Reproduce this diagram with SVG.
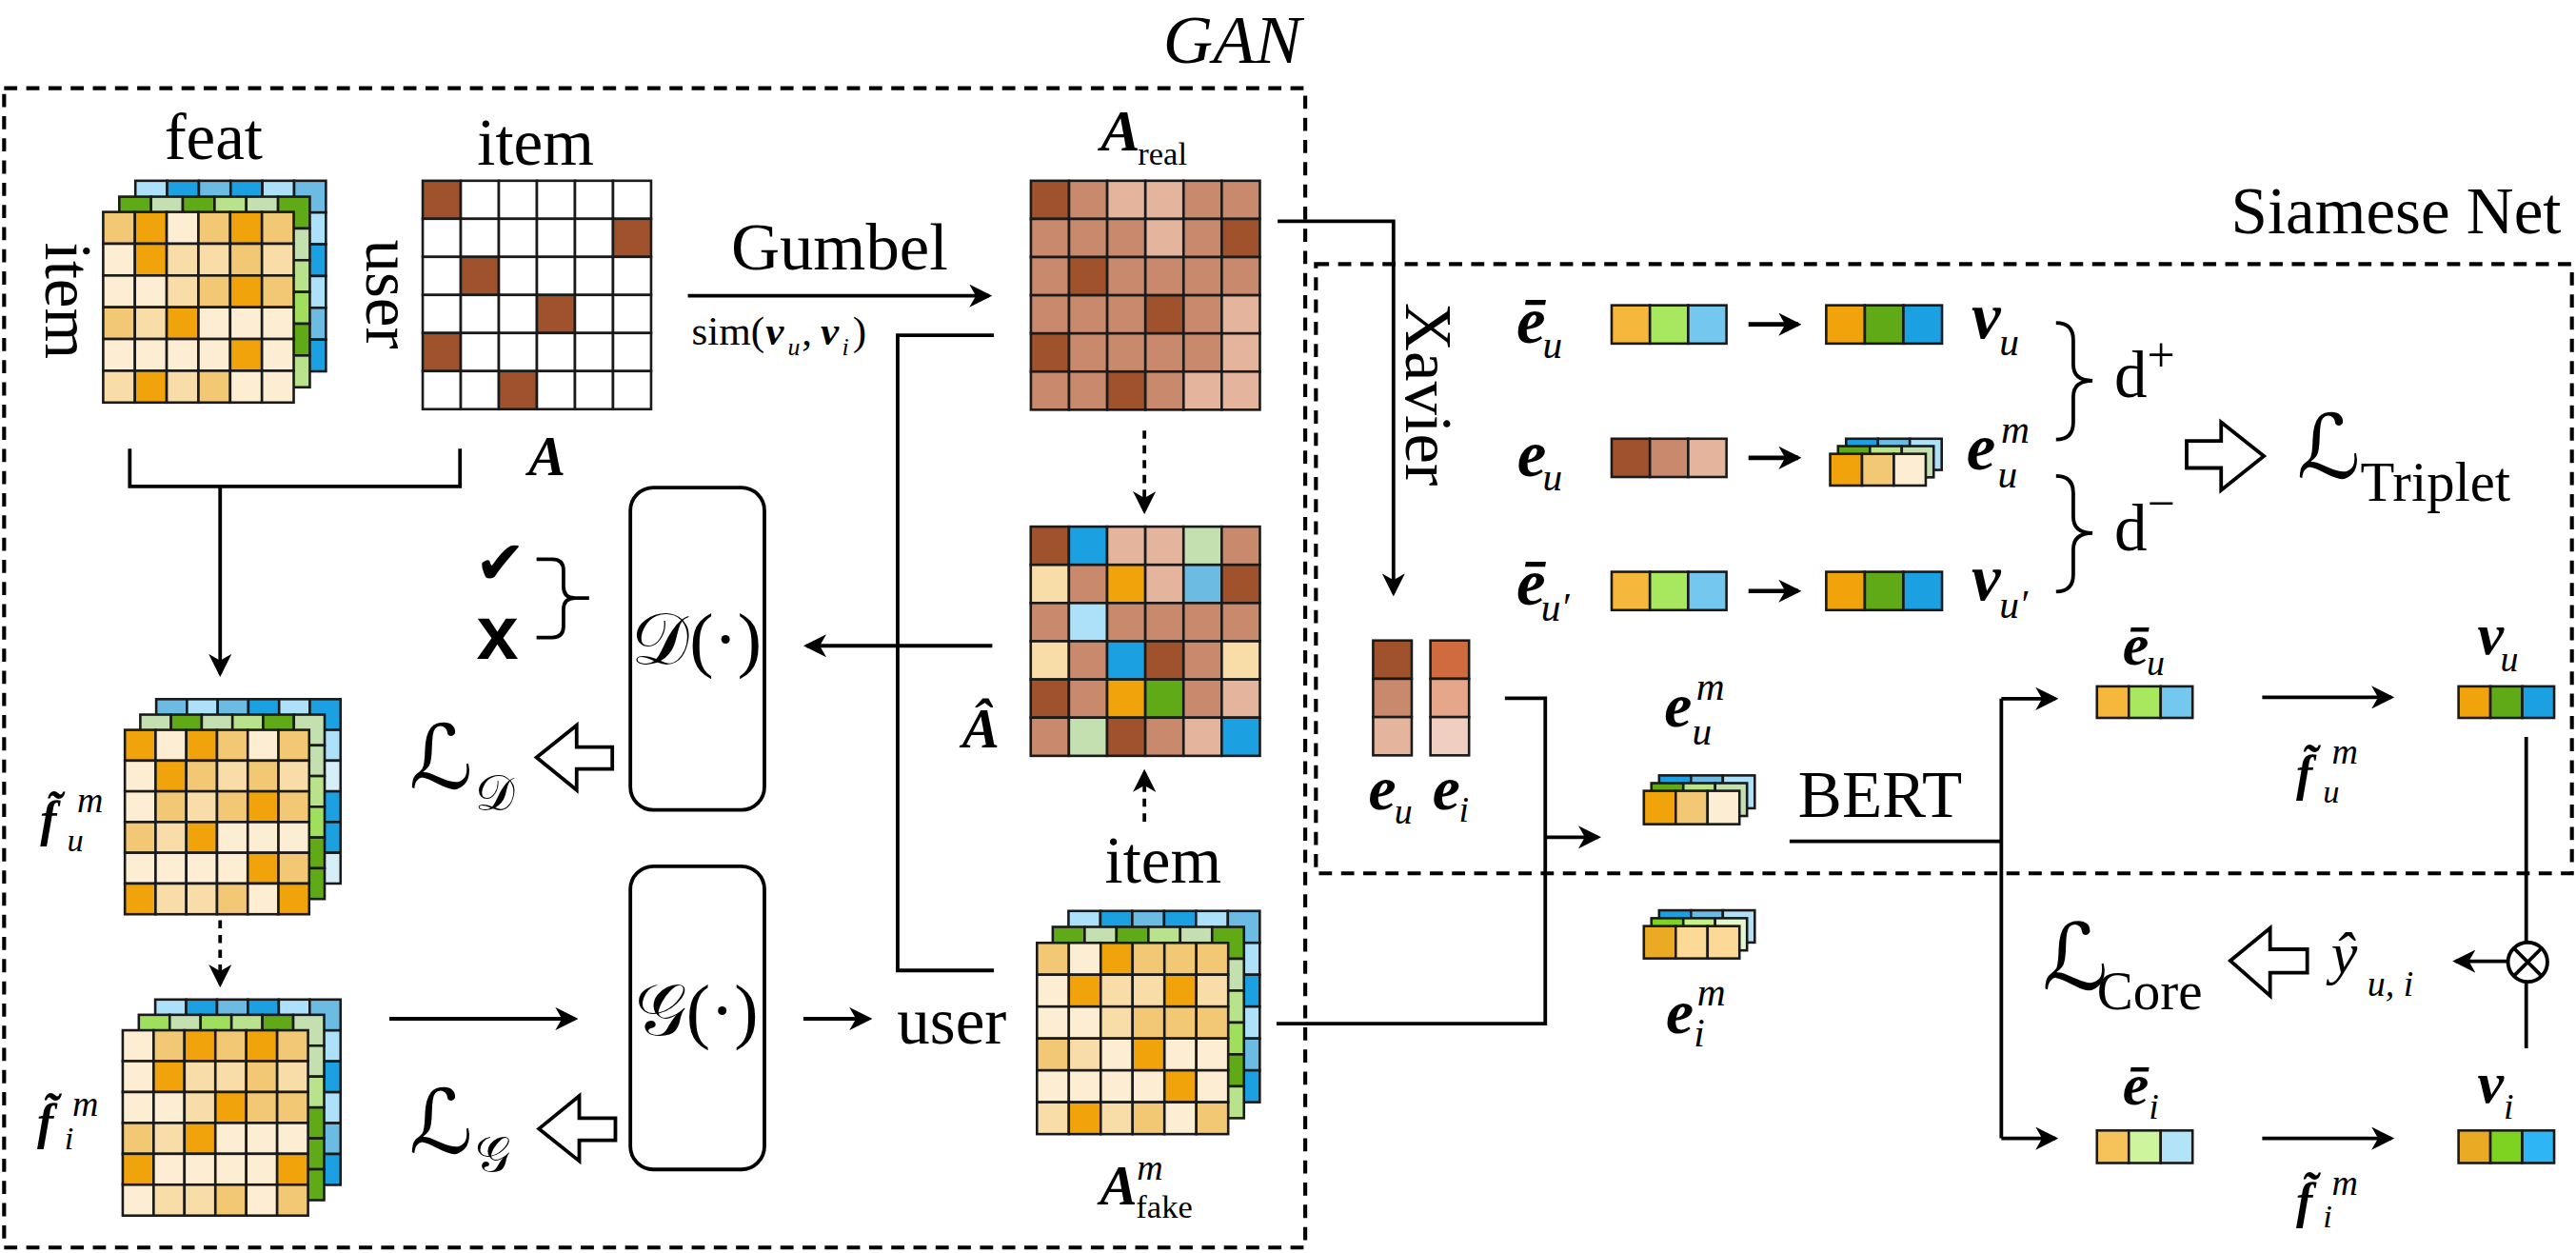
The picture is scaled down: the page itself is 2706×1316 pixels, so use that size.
<svg xmlns="http://www.w3.org/2000/svg" width="2706" height="1316" viewBox="0 0 2706 1316">
<defs>
<style>
.t{font-family:"Liberation Serif","Times New Roman",serif;fill:#000}
.b40{font-size:40px}
.bi{font-weight:bold;font-style:italic}
.it{font-style:italic}
.ln{fill:none;stroke:#000;stroke-width:2.2}
.thk{stroke-width:2.7}
.dsh{stroke-dasharray:5 4}
.box{fill:none;stroke:#000;stroke-width:2.4;stroke-dasharray:8 5.5}
.hol{fill:#fff;stroke:#000;stroke-width:2.2;stroke-linejoin:miter}
.nb{fill:#fff;stroke:#000;stroke-width:2.2}
.grid rect{stroke:#1a1a1a}
.vec rect{stroke:#1a1a1a;stroke-width:1.5}
.od{fill:#F0A30A}.om{fill:#F3C875}.ol{fill:#F8DDA8}.ox{fill:#FCEDD3}
.gd{fill:#60A917}.gp{fill:#C5E0B0}.gl{fill:#B9E28C}.gb{fill:#9FDF5D}
.bd{fill:#1BA1E2}.bm{fill:#6BBBE3}.bl{fill:#ADE1FA}.bx{fill:#D6EEF8}
.rd{fill:#A0522D}.rm{fill:#C8896C}.rl{fill:#E4B59C}.w{fill:#FFFFFF}
.sym{font-family:"DejaVu Serif","DejaVu Sans",serif}
</style>
<marker id="ah" viewBox="0 0 14 14" markerWidth="14" markerHeight="14" refX="12" refY="7" orient="auto" markerUnits="userSpaceOnUse"><path d="M0,0 L14,7 L0,14 L4,7 Z" fill="#000"/></marker>
</defs>
<rect x="0" y="0" width="2706" height="1316" fill="#fff"/>
<g transform="scale(1.72577)">

<g id="gan-box"><rect class="box" x="2.5" y="53.7" width="792" height="705.5"/><text class="t it" x="750" y="38.5" font-size="42" text-anchor="middle">GAN</text></g>
<g id="siamese-box"><rect class="box" x="801" y="160.7" width="764.5" height="370.8"/><text class="t b40" x="1559" y="142" text-anchor="end">Siamese Net</text></g>

<g id="feat-matrix">
<g class="grid" transform="translate(82.4,110) scale(19.33)" style="stroke-width:0.078">
<rect x="0" y="0" width="1" height="1" class="bl"/><rect x="1" y="0" width="1" height="1" class="bd"/><rect x="2" y="0" width="1" height="1" class="bm"/><rect x="3" y="0" width="1" height="1" class="bd"/><rect x="4" y="0" width="1" height="1" class="bl"/><rect x="5" y="0" width="1" height="1" class="bm"/>
<rect x="5" y="1" width="1" height="1" class="bl"/><rect x="5" y="2" width="1" height="1" class="bd"/><rect x="5" y="3" width="1" height="1" class="bl"/><rect x="5" y="4" width="1" height="1" class="bm"/><rect x="5" y="5" width="1" height="1" class="bd"/>
</g>
<g class="grid" transform="translate(72.6,119.7) scale(19.33)" style="stroke-width:0.078">
<rect x="0" y="0" width="1" height="1" class="gd"/><rect x="1" y="0" width="1" height="1" class="gp"/><rect x="2" y="0" width="1" height="1" class="gd"/><rect x="3" y="0" width="1" height="1" class="gl"/><rect x="4" y="0" width="1" height="1" class="gp"/><rect x="5" y="0" width="1" height="1" class="gd"/>
<rect x="5" y="1" width="1" height="1" class="gp"/><rect x="5" y="2" width="1" height="1" class="gl"/><rect x="5" y="3" width="1" height="1" class="gb"/><rect x="5" y="4" width="1" height="1" class="gd"/><rect x="5" y="5" width="1" height="1" class="gl"/>
</g>
<g class="grid" transform="translate(62.8,129) scale(19.33)" style="stroke-width:0.078">
<rect x="0" y="0" width="1" height="1" class="om"/><rect x="1" y="0" width="1" height="1" class="od"/><rect x="2" y="0" width="1" height="1" class="ox"/><rect x="3" y="0" width="1" height="1" class="om"/><rect x="4" y="0" width="1" height="1" class="od"/><rect x="5" y="0" width="1" height="1" class="om"/>
<rect x="0" y="1" width="1" height="1" class="ox"/><rect x="1" y="1" width="1" height="1" class="od"/><rect x="2" y="1" width="1" height="1" class="ol"/><rect x="3" y="1" width="1" height="1" class="ol"/><rect x="4" y="1" width="1" height="1" class="om"/><rect x="5" y="1" width="1" height="1" class="ol"/>
<rect x="0" y="2" width="1" height="1" class="ox"/><rect x="1" y="2" width="1" height="1" class="ox"/><rect x="2" y="2" width="1" height="1" class="ol"/><rect x="3" y="2" width="1" height="1" class="om"/><rect x="4" y="2" width="1" height="1" class="od"/><rect x="5" y="2" width="1" height="1" class="om"/>
<rect x="0" y="3" width="1" height="1" class="om"/><rect x="1" y="3" width="1" height="1" class="ol"/><rect x="2" y="3" width="1" height="1" class="od"/><rect x="3" y="3" width="1" height="1" class="ox"/><rect x="4" y="3" width="1" height="1" class="ox"/><rect x="5" y="3" width="1" height="1" class="ox"/>
<rect x="0" y="4" width="1" height="1" class="ox"/><rect x="1" y="4" width="1" height="1" class="ox"/><rect x="2" y="4" width="1" height="1" class="ox"/><rect x="3" y="4" width="1" height="1" class="ox"/><rect x="4" y="4" width="1" height="1" class="od"/><rect x="5" y="4" width="1" height="1" class="ox"/>
<rect x="0" y="5" width="1" height="1" class="ol"/><rect x="1" y="5" width="1" height="1" class="od"/><rect x="2" y="5" width="1" height="1" class="ol"/><rect x="3" y="5" width="1" height="1" class="om"/><rect x="4" y="5" width="1" height="1" class="ox"/><rect x="5" y="5" width="1" height="1" class="ox"/>
</g>
<text class="t b40" x="130" y="97" text-anchor="middle">feat</text>
<text class="t b40" transform="translate(28,183) rotate(90)" text-anchor="middle">item</text>
</g>

<g id="adjacency-A">
<g class="grid" transform="translate(257.3,110) scale(23.17)" style="stroke-width:0.065">
<rect x="0" y="0" width="1" height="1" class="rd"/><rect x="1" y="0" width="1" height="1" class="w"/><rect x="2" y="0" width="1" height="1" class="w"/><rect x="3" y="0" width="1" height="1" class="w"/><rect x="4" y="0" width="1" height="1" class="w"/><rect x="5" y="0" width="1" height="1" class="w"/>
<rect x="0" y="1" width="1" height="1" class="w"/><rect x="1" y="1" width="1" height="1" class="w"/><rect x="2" y="1" width="1" height="1" class="w"/><rect x="3" y="1" width="1" height="1" class="w"/><rect x="4" y="1" width="1" height="1" class="w"/><rect x="5" y="1" width="1" height="1" class="rd"/>
<rect x="0" y="2" width="1" height="1" class="w"/><rect x="1" y="2" width="1" height="1" class="rd"/><rect x="2" y="2" width="1" height="1" class="w"/><rect x="3" y="2" width="1" height="1" class="w"/><rect x="4" y="2" width="1" height="1" class="w"/><rect x="5" y="2" width="1" height="1" class="w"/>
<rect x="0" y="3" width="1" height="1" class="w"/><rect x="1" y="3" width="1" height="1" class="w"/><rect x="2" y="3" width="1" height="1" class="w"/><rect x="3" y="3" width="1" height="1" class="rd"/><rect x="4" y="3" width="1" height="1" class="w"/><rect x="5" y="3" width="1" height="1" class="w"/>
<rect x="0" y="4" width="1" height="1" class="rd"/><rect x="1" y="4" width="1" height="1" class="w"/><rect x="2" y="4" width="1" height="1" class="w"/><rect x="3" y="4" width="1" height="1" class="w"/><rect x="4" y="4" width="1" height="1" class="w"/><rect x="5" y="4" width="1" height="1" class="w"/>
<rect x="0" y="5" width="1" height="1" class="w"/><rect x="1" y="5" width="1" height="1" class="w"/><rect x="2" y="5" width="1" height="1" class="rd"/><rect x="3" y="5" width="1" height="1" class="w"/><rect x="4" y="5" width="1" height="1" class="w"/><rect x="5" y="5" width="1" height="1" class="w"/>
</g>
<text class="t b40" x="326" y="100" text-anchor="middle">item</text>
<text class="t b40" transform="translate(223,179) rotate(90)" text-anchor="middle">user</text>
<text class="t bi" x="333" y="289" font-size="34" text-anchor="middle">A</text>
</g>

<g id="a-real">
<g class="grid" transform="translate(627.5,110) scale(23.23)" style="stroke-width:0.065">
<rect x="0" y="0" width="1" height="1" class="rd"/><rect x="1" y="0" width="1" height="1" class="rm"/><rect x="2" y="0" width="1" height="1" class="rl"/><rect x="3" y="0" width="1" height="1" class="rl"/><rect x="4" y="0" width="1" height="1" class="rm"/><rect x="5" y="0" width="1" height="1" class="rm"/>
<rect x="0" y="1" width="1" height="1" class="rm"/><rect x="1" y="1" width="1" height="1" class="rm"/><rect x="2" y="1" width="1" height="1" class="rm"/><rect x="3" y="1" width="1" height="1" class="rl"/><rect x="4" y="1" width="1" height="1" class="rm"/><rect x="5" y="1" width="1" height="1" class="rd"/>
<rect x="0" y="2" width="1" height="1" class="rm"/><rect x="1" y="2" width="1" height="1" class="rd"/><rect x="2" y="2" width="1" height="1" class="rm"/><rect x="3" y="2" width="1" height="1" class="rm"/><rect x="4" y="2" width="1" height="1" class="rm"/><rect x="5" y="2" width="1" height="1" class="rm"/>
<rect x="0" y="3" width="1" height="1" class="rm"/><rect x="1" y="3" width="1" height="1" class="rm"/><rect x="2" y="3" width="1" height="1" class="rm"/><rect x="3" y="3" width="1" height="1" class="rd"/><rect x="4" y="3" width="1" height="1" class="rm"/><rect x="5" y="3" width="1" height="1" class="rl"/>
<rect x="0" y="4" width="1" height="1" class="rd"/><rect x="1" y="4" width="1" height="1" class="rm"/><rect x="2" y="4" width="1" height="1" class="rm"/><rect x="3" y="4" width="1" height="1" class="rm"/><rect x="4" y="4" width="1" height="1" class="rm"/><rect x="5" y="4" width="1" height="1" class="rl"/>
<rect x="0" y="5" width="1" height="1" class="rm"/><rect x="1" y="5" width="1" height="1" class="rm"/><rect x="2" y="5" width="1" height="1" class="rd"/><rect x="3" y="5" width="1" height="1" class="rm"/><rect x="4" y="5" width="1" height="1" class="rl"/><rect x="5" y="5" width="1" height="1" class="rl"/>
</g>
<text class="t"><tspan class="bi" x="670" y="91.7" font-size="36">A</tspan><tspan x="692.6" y="100.4" font-size="20">real</tspan></text>
</g>

<g id="a-hat">
<g class="grid" transform="translate(627.4,320.5) scale(23.25)" style="stroke-width:0.065">
<rect x="0" y="0" width="1" height="1" class="rd"/><rect x="1" y="0" width="1" height="1" class="bd"/><rect x="2" y="0" width="1" height="1" class="rl"/><rect x="3" y="0" width="1" height="1" class="rl"/><rect x="4" y="0" width="1" height="1" class="gp"/><rect x="5" y="0" width="1" height="1" class="rm"/>
<rect x="0" y="1" width="1" height="1" class="ol"/><rect x="1" y="1" width="1" height="1" class="rm"/><rect x="2" y="1" width="1" height="1" class="od"/><rect x="3" y="1" width="1" height="1" class="rl"/><rect x="4" y="1" width="1" height="1" class="bm"/><rect x="5" y="1" width="1" height="1" class="rd"/>
<rect x="0" y="2" width="1" height="1" class="rm"/><rect x="1" y="2" width="1" height="1" class="bl"/><rect x="2" y="2" width="1" height="1" class="rm"/><rect x="3" y="2" width="1" height="1" class="rm"/><rect x="4" y="2" width="1" height="1" class="rm"/><rect x="5" y="2" width="1" height="1" class="rm"/>
<rect x="0" y="3" width="1" height="1" class="ol"/><rect x="1" y="3" width="1" height="1" class="rm"/><rect x="2" y="3" width="1" height="1" class="bd"/><rect x="3" y="3" width="1" height="1" class="rd"/><rect x="4" y="3" width="1" height="1" class="rm"/><rect x="5" y="3" width="1" height="1" class="ol"/>
<rect x="0" y="4" width="1" height="1" class="rd"/><rect x="1" y="4" width="1" height="1" class="rm"/><rect x="2" y="4" width="1" height="1" class="od"/><rect x="3" y="4" width="1" height="1" class="gd"/><rect x="4" y="4" width="1" height="1" class="rm"/><rect x="5" y="4" width="1" height="1" class="rl"/>
<rect x="0" y="5" width="1" height="1" class="rm"/><rect x="1" y="5" width="1" height="1" class="gp"/><rect x="2" y="5" width="1" height="1" class="rd"/><rect x="3" y="5" width="1" height="1" class="rm"/><rect x="4" y="5" width="1" height="1" class="rl"/><rect x="5" y="5" width="1" height="1" class="bd"/>
</g>
<text class="t bi" x="597" y="455" font-size="34" text-anchor="middle">Â</text>
</g>

<g id="a-fake">
<g class="grid" transform="translate(650.4,554.4) scale(19.4)" style="stroke-width:0.077">
<rect x="0" y="0" width="1" height="1" class="bl"/><rect x="1" y="0" width="1" height="1" class="bd"/><rect x="2" y="0" width="1" height="1" class="bm"/><rect x="3" y="0" width="1" height="1" class="bd"/><rect x="4" y="0" width="1" height="1" class="bl"/><rect x="5" y="0" width="1" height="1" class="bm"/>
<rect x="5" y="1" width="1" height="1" class="bl"/><rect x="5" y="2" width="1" height="1" class="bd"/><rect x="5" y="3" width="1" height="1" class="bl"/><rect x="5" y="4" width="1" height="1" class="bm"/><rect x="5" y="5" width="1" height="1" class="bd"/>
</g>
<g class="grid" transform="translate(640.8,564.1) scale(19.4)" style="stroke-width:0.077">
<rect x="0" y="0" width="1" height="1" class="gd"/><rect x="1" y="0" width="1" height="1" class="gp"/><rect x="2" y="0" width="1" height="1" class="gd"/><rect x="3" y="0" width="1" height="1" class="gl"/><rect x="4" y="0" width="1" height="1" class="gp"/><rect x="5" y="0" width="1" height="1" class="gd"/>
<rect x="5" y="1" width="1" height="1" class="gp"/><rect x="5" y="2" width="1" height="1" class="gl"/><rect x="5" y="3" width="1" height="1" class="gb"/><rect x="5" y="4" width="1" height="1" class="gd"/><rect x="5" y="5" width="1" height="1" class="gl"/>
</g>
<g class="grid" transform="translate(631.2,573.8) scale(19.4)" style="stroke-width:0.077">
<rect x="0" y="0" width="1" height="1" class="om"/><rect x="1" y="0" width="1" height="1" class="ox"/><rect x="2" y="0" width="1" height="1" class="od"/><rect x="3" y="0" width="1" height="1" class="om"/><rect x="4" y="0" width="1" height="1" class="om"/><rect x="5" y="0" width="1" height="1" class="om"/>
<rect x="0" y="1" width="1" height="1" class="ox"/><rect x="1" y="1" width="1" height="1" class="od"/><rect x="2" y="1" width="1" height="1" class="ol"/><rect x="3" y="1" width="1" height="1" class="ol"/><rect x="4" y="1" width="1" height="1" class="od"/><rect x="5" y="1" width="1" height="1" class="ol"/>
<rect x="0" y="2" width="1" height="1" class="ox"/><rect x="1" y="2" width="1" height="1" class="ox"/><rect x="2" y="2" width="1" height="1" class="ol"/><rect x="3" y="2" width="1" height="1" class="om"/><rect x="4" y="2" width="1" height="1" class="om"/><rect x="5" y="2" width="1" height="1" class="om"/>
<rect x="0" y="3" width="1" height="1" class="om"/><rect x="1" y="3" width="1" height="1" class="ol"/><rect x="2" y="3" width="1" height="1" class="ox"/><rect x="3" y="3" width="1" height="1" class="od"/><rect x="4" y="3" width="1" height="1" class="ox"/><rect x="5" y="3" width="1" height="1" class="ox"/>
<rect x="0" y="4" width="1" height="1" class="ox"/><rect x="1" y="4" width="1" height="1" class="ox"/><rect x="2" y="4" width="1" height="1" class="ox"/><rect x="3" y="4" width="1" height="1" class="ox"/><rect x="4" y="4" width="1" height="1" class="od"/><rect x="5" y="4" width="1" height="1" class="ox"/>
<rect x="0" y="5" width="1" height="1" class="ol"/><rect x="1" y="5" width="1" height="1" class="od"/><rect x="2" y="5" width="1" height="1" class="ol"/><rect x="3" y="5" width="1" height="1" class="om"/><rect x="4" y="5" width="1" height="1" class="ox"/><rect x="5" y="5" width="1" height="1" class="om"/>
</g>
<text class="t b40" x="708" y="537" text-anchor="middle">item</text>
<text class="t b40" x="546" y="635">user</text>
<text class="t"><tspan class="bi" x="669.6" y="733" font-size="34">A</tspan><tspan class="it" x="692" y="718" font-size="22">m</tspan><tspan x="691.5" y="741" font-size="20">fake</tspan></text>
</g>

<g id="f-u">
<g class="grid" transform="translate(95.1,425.5) scale(18.7)" style="stroke-width:0.08">
<rect x="0" y="0" width="1" height="1" class="bm"/><rect x="1" y="0" width="1" height="1" class="bl"/><rect x="2" y="0" width="1" height="1" class="bm"/><rect x="3" y="0" width="1" height="1" class="bd"/><rect x="4" y="0" width="1" height="1" class="bl"/><rect x="5" y="0" width="1" height="1" class="bd"/>
<rect x="5" y="1" width="1" height="1" class="bl"/><rect x="5" y="2" width="1" height="1" class="bx"/><rect x="5" y="3" width="1" height="1" class="bd"/><rect x="5" y="4" width="1" height="1" class="bd"/><rect x="5" y="5" width="1" height="1" class="bx"/>
</g>
<g class="grid" transform="translate(85.4,434.9) scale(18.7)" style="stroke-width:0.08">
<rect x="0" y="0" width="1" height="1" class="gp"/><rect x="1" y="0" width="1" height="1" class="gd"/><rect x="2" y="0" width="1" height="1" class="gp"/><rect x="3" y="0" width="1" height="1" class="gl"/><rect x="4" y="0" width="1" height="1" class="gd"/><rect x="5" y="0" width="1" height="1" class="gp"/>
<rect x="5" y="1" width="1" height="1" class="gp"/><rect x="5" y="2" width="1" height="1" class="gl"/><rect x="5" y="3" width="1" height="1" class="gb"/><rect x="5" y="4" width="1" height="1" class="gd"/><rect x="5" y="5" width="1" height="1" class="gd"/>
</g>
<g class="grid" transform="translate(76,444.2) scale(18.7)" style="stroke-width:0.08">
<rect x="0" y="0" width="1" height="1" class="od"/><rect x="1" y="0" width="1" height="1" class="ox"/><rect x="2" y="0" width="1" height="1" class="od"/><rect x="3" y="0" width="1" height="1" class="om"/><rect x="4" y="0" width="1" height="1" class="ox"/><rect x="5" y="0" width="1" height="1" class="om"/>
<rect x="0" y="1" width="1" height="1" class="ox"/><rect x="1" y="1" width="1" height="1" class="od"/><rect x="2" y="1" width="1" height="1" class="om"/><rect x="3" y="1" width="1" height="1" class="ol"/><rect x="4" y="1" width="1" height="1" class="om"/><rect x="5" y="1" width="1" height="1" class="ol"/>
<rect x="0" y="2" width="1" height="1" class="ox"/><rect x="1" y="2" width="1" height="1" class="om"/><rect x="2" y="2" width="1" height="1" class="ol"/><rect x="3" y="2" width="1" height="1" class="om"/><rect x="4" y="2" width="1" height="1" class="od"/><rect x="5" y="2" width="1" height="1" class="om"/>
<rect x="0" y="3" width="1" height="1" class="om"/><rect x="1" y="3" width="1" height="1" class="ol"/><rect x="2" y="3" width="1" height="1" class="od"/><rect x="3" y="3" width="1" height="1" class="ox"/><rect x="4" y="3" width="1" height="1" class="ox"/><rect x="5" y="3" width="1" height="1" class="ox"/>
<rect x="0" y="4" width="1" height="1" class="ox"/><rect x="1" y="4" width="1" height="1" class="ox"/><rect x="2" y="4" width="1" height="1" class="ox"/><rect x="3" y="4" width="1" height="1" class="ox"/><rect x="4" y="4" width="1" height="1" class="od"/><rect x="5" y="4" width="1" height="1" class="om"/>
<rect x="0" y="5" width="1" height="1" class="od"/><rect x="1" y="5" width="1" height="1" class="ol"/><rect x="2" y="5" width="1" height="1" class="ol"/><rect x="3" y="5" width="1" height="1" class="om"/><rect x="4" y="5" width="1" height="1" class="ox"/><rect x="5" y="5" width="1" height="1" class="od"/>
</g>
<text class="t"><tspan class="bi" x="24.5" y="509" font-size="30">f̃</tspan><tspan class="it" x="47" y="494.5" font-size="22">m</tspan><tspan class="it" x="40.8" y="518" font-size="20">u</tspan></text>
</g>

<g id="f-i">
<g class="grid" transform="translate(94.5,608.3) scale(18.8)" style="stroke-width:0.08">
<rect x="0" y="0" width="1" height="1" class="bl"/><rect x="1" y="0" width="1" height="1" class="bd"/><rect x="2" y="0" width="1" height="1" class="bm"/><rect x="3" y="0" width="1" height="1" class="bd"/><rect x="4" y="0" width="1" height="1" class="bl"/><rect x="5" y="0" width="1" height="1" class="bm"/>
<rect x="5" y="1" width="1" height="1" class="bl"/><rect x="5" y="2" width="1" height="1" class="bd"/><rect x="5" y="3" width="1" height="1" class="bl"/><rect x="5" y="4" width="1" height="1" class="bm"/><rect x="5" y="5" width="1" height="1" class="bd"/>
</g>
<g class="grid" transform="translate(84.5,617.6) scale(18.8)" style="stroke-width:0.08">
<rect x="0" y="0" width="1" height="1" class="gb"/><rect x="1" y="0" width="1" height="1" class="gp"/><rect x="2" y="0" width="1" height="1" class="gb"/><rect x="3" y="0" width="1" height="1" class="gl"/><rect x="4" y="0" width="1" height="1" class="gd"/><rect x="5" y="0" width="1" height="1" class="gp"/>
<rect x="5" y="1" width="1" height="1" class="gp"/><rect x="5" y="2" width="1" height="1" class="gl"/><rect x="5" y="3" width="1" height="1" class="gd"/><rect x="5" y="4" width="1" height="1" class="gd"/><rect x="5" y="5" width="1" height="1" class="gd"/>
</g>
<g class="grid" transform="translate(74.7,627) scale(18.8)" style="stroke-width:0.08">
<rect x="0" y="0" width="1" height="1" class="ox"/><rect x="1" y="0" width="1" height="1" class="om"/><rect x="2" y="0" width="1" height="1" class="od"/><rect x="3" y="0" width="1" height="1" class="om"/><rect x="4" y="0" width="1" height="1" class="od"/><rect x="5" y="0" width="1" height="1" class="om"/>
<rect x="0" y="1" width="1" height="1" class="ox"/><rect x="1" y="1" width="1" height="1" class="od"/><rect x="2" y="1" width="1" height="1" class="ol"/><rect x="3" y="1" width="1" height="1" class="ol"/><rect x="4" y="1" width="1" height="1" class="om"/><rect x="5" y="1" width="1" height="1" class="ol"/>
<rect x="0" y="2" width="1" height="1" class="ox"/><rect x="1" y="2" width="1" height="1" class="ox"/><rect x="2" y="2" width="1" height="1" class="ol"/><rect x="3" y="2" width="1" height="1" class="od"/><rect x="4" y="2" width="1" height="1" class="om"/><rect x="5" y="2" width="1" height="1" class="om"/>
<rect x="0" y="3" width="1" height="1" class="om"/><rect x="1" y="3" width="1" height="1" class="ol"/><rect x="2" y="3" width="1" height="1" class="od"/><rect x="3" y="3" width="1" height="1" class="ox"/><rect x="4" y="3" width="1" height="1" class="ox"/><rect x="5" y="3" width="1" height="1" class="ox"/>
<rect x="0" y="4" width="1" height="1" class="od"/><rect x="1" y="4" width="1" height="1" class="ox"/><rect x="2" y="4" width="1" height="1" class="ox"/><rect x="3" y="4" width="1" height="1" class="ox"/><rect x="4" y="4" width="1" height="1" class="ox"/><rect x="5" y="4" width="1" height="1" class="od"/>
<rect x="0" y="5" width="1" height="1" class="ox"/><rect x="1" y="5" width="1" height="1" class="ol"/><rect x="2" y="5" width="1" height="1" class="ol"/><rect x="3" y="5" width="1" height="1" class="om"/><rect x="4" y="5" width="1" height="1" class="ox"/><rect x="5" y="5" width="1" height="1" class="om"/>
</g>
<text class="t"><tspan class="bi" x="22.6" y="693" font-size="30">f̃</tspan><tspan class="it" x="44" y="679" font-size="22">m</tspan><tspan class="it" x="39.3" y="699.6" font-size="20">i</tspan></text>
</g>

<g id="discriminator">
<rect class="nb" x="383.7" y="296.7" width="81.6" height="196.2" rx="14"/>
<text class="t" x="424" y="404" font-size="44" text-anchor="middle">𝒟(·)</text>
</g>
<g id="generator">
<rect class="nb" x="383.7" y="527.2" width="81.6" height="184.5" rx="14"/>
<text class="t" x="424" y="630" font-size="44" text-anchor="middle">𝒢(·)</text>
</g>
<g id="real-fake">
<text x="289" y="355" font-family="DejaVu Sans" font-size="37">✔</text>
<text x="290" y="400.7" font-family="Liberation Sans" font-weight="bold" font-size="46">x</text>
<path class="ln" d="M326.6,340.3 L336,340.3 Q343,340.3 343,347 L343,357 Q343,364 350,364 L358.6,364 M350,364 Q343,364 343,371 L343,381 Q343,388 336,388 L326.6,388"/>
</g>
<g id="loss-d">
<text class="t"><tspan class="sym" x="249" y="480" font-size="54">ℒ</tspan><tspan x="289" y="493" font-size="30">𝒟</tspan></text>
<polygon class="hol" points="326.6,461 351,441.4 351,454.7 372.7,454.7 372.7,468 351,468 351,480.8"/>
</g>
<g id="loss-g">
<text class="t"><tspan class="sym" x="249" y="702" font-size="54">ℒ</tspan><tspan x="289" y="713" font-size="30">𝒢</tspan></text>
<polygon class="hol" points="328,687 352.6,667 352.6,680.5 374.6,680.5 374.6,694 352.6,694 352.6,706.6"/>
</g>

<g id="gumbel-label">
<text class="t" x="511" y="164" font-size="41" text-anchor="middle">Gumbel</text>
<text class="t" font-size="25"><tspan x="421" y="210">sim(</tspan><tspan class="bi" x="466" y="210">v</tspan><tspan class="it" x="479.5" y="216" font-size="15">u</tspan><tspan x="488" y="210">,</tspan><tspan class="bi" x="499.5" y="210">v</tspan><tspan class="it" x="512.5" y="216" font-size="15">i</tspan><tspan x="519" y="210">)</tspan></text>
</g>

<g id="xavier-label"><text class="t" font-size="41" transform="translate(856,240) rotate(90)" text-anchor="middle">Xavier</text></g>

<g id="triplet-rows">
<g class="vec">
<rect x="981" y="185.8" width="23.3" height="23.3" fill="#F5B83D"/><rect x="1004.3" y="185.8" width="23.3" height="23.3" fill="#A8E85F"/><rect x="1027.6" y="185.8" width="23.3" height="23.3" fill="#74C7EE"/>
<rect x="1111.6" y="185.8" width="23.5" height="23.3" fill="#F0A30A"/><rect x="1135.1" y="185.8" width="23.5" height="23.3" fill="#60A917"/><rect x="1158.6" y="185.8" width="23.5" height="23.3" fill="#1BA1E2"/>
<rect x="981" y="267" width="23.3" height="23.3" fill="#A0522D"/><rect x="1004.3" y="267" width="23.3" height="23.3" fill="#C8896C"/><rect x="1027.6" y="267" width="23.3" height="23.3" fill="#E4B59C"/>
<rect x="1123.7" y="267" width="19.4" height="19" fill="#1BA1E2"/><rect x="1143.1" y="267" width="19.4" height="19" fill="#6BBBE3"/><rect x="1162.5" y="267" width="19.4" height="19" fill="#ADE1FA"/>
<rect x="1118.8" y="271.5" width="19.4" height="19" fill="#60A917"/><rect x="1138.2" y="271.5" width="19.4" height="19" fill="#B9E28C"/><rect x="1157.6" y="271.5" width="19.4" height="19" fill="#C5E0B0"/>
<rect x="1114" y="276.2" width="19.4" height="19.3" fill="#F0A30A"/><rect x="1133.4" y="276.2" width="19.4" height="19.3" fill="#F3C875"/><rect x="1152.8" y="276.2" width="19.4" height="19.3" fill="#FCEDD3"/>
<rect x="981" y="348" width="23.3" height="23.3" fill="#F5B83D"/><rect x="1004.3" y="348" width="23.3" height="23.3" fill="#A8E85F"/><rect x="1027.6" y="348" width="23.3" height="23.3" fill="#74C7EE"/>
<rect x="1111.6" y="348" width="23.5" height="23.3" fill="#F0A30A"/><rect x="1135.1" y="348" width="23.5" height="23.3" fill="#60A917"/><rect x="1158.6" y="348" width="23.5" height="23.3" fill="#1BA1E2"/>
</g>
<text class="t"><tspan class="bi" x="923" y="208.6" font-size="40">ē</tspan><tspan class="it" x="939" y="218" font-size="24">u</tspan></text>
<text class="t"><tspan class="bi" x="923.5" y="289.7" font-size="40">e</tspan><tspan class="it" x="939" y="298.4" font-size="24">u</tspan></text>
<text class="t"><tspan class="bi" x="923" y="367.9" font-size="40">ē</tspan><tspan class="it" x="938" y="378" font-size="24">u′</tspan></text>
<text class="t"><tspan class="bi" x="1200" y="205.7" font-size="40">v</tspan><tspan class="it" x="1217" y="216.3" font-size="24">u</tspan></text>
<text class="t"><tspan class="bi" x="1197" y="285.8" font-size="40">e</tspan><tspan class="it" x="1218" y="269.4" font-size="24">m</tspan><tspan class="it" x="1216" y="296.4" font-size="24">u</tspan></text>
<text class="t"><tspan class="bi" x="1200" y="365" font-size="40">v</tspan><tspan class="it" x="1217" y="376" font-size="24">u′</tspan></text>
<path class="ln" d="M1251.5,196.5 Q1262,196.5 1262,207 L1262,222 Q1262,231.7 1273.7,231.7 Q1262,231.7 1262,241.5 L1262,257 Q1262,267.5 1251.5,267.5"/>
<path class="ln" d="M1251.5,289.6 Q1262,289.6 1262,300 L1262,314.5 Q1262,324.4 1273.7,324.4 Q1262,324.4 1262,334.5 L1262,349.5 Q1262,360 1251.5,360"/>
<text class="t"><tspan x="1287" y="241.5" font-size="40">d</tspan><tspan x="1307" y="225.7" font-size="30">+</tspan></text>
<text class="t"><tspan x="1287" y="335" font-size="40">d</tspan><tspan x="1307" y="316.5" font-size="30">−</tspan></text>
<polygon class="hol" points="1378,277.5 1352,257 1352,268.4 1331,268.4 1331,284.8 1352,284.8 1352,298.3"/>
<text class="t"><tspan class="sym" x="1398" y="291" font-size="54">ℒ</tspan><tspan x="1436.8" y="305" font-size="34">Triplet</tspan></text>
</g>

<g id="embeddings">
<g class="vec">
<rect x="835.8" y="389.8" width="23.5" height="23.3" fill="#A0522D"/><rect x="835.8" y="413.1" width="23.5" height="23.3" fill="#C8896C"/><rect x="835.8" y="436.4" width="23.5" height="23.3" fill="#E4B59C"/>
<rect x="870.7" y="389.8" width="23.5" height="23.3" fill="#D06B3F"/><rect x="870.7" y="413.1" width="23.5" height="23.3" fill="#E6A68A"/><rect x="870.7" y="436.4" width="23.5" height="23.3" fill="#F0CFC1"/>
</g>
<text class="t"><tspan class="bi" x="833" y="492.5" font-size="38">e</tspan><tspan class="it" x="848.7" y="501" font-size="22">u</tspan></text>
<text class="t"><tspan class="bi" x="872" y="492.5" font-size="38">e</tspan><tspan class="it" x="888" y="500" font-size="22">i</tspan></text>
</g>

<g id="bert">
<g class="vec">
<rect x="1009.9" y="471.9" width="19.4" height="20" fill="#1BA1E2"/><rect x="1029.3" y="471.9" width="19.4" height="20" fill="#6BBBE3"/><rect x="1048.7" y="471.9" width="19.4" height="20" fill="#ADE1FA"/>
<rect x="1005.2" y="476.6" width="19.4" height="20" fill="#60A917"/><rect x="1024.6" y="476.6" width="19.4" height="20" fill="#B9E28C"/><rect x="1044" y="476.6" width="19.4" height="20" fill="#C5E0B0"/>
<rect x="1000.6" y="481.3" width="19.4" height="20.3" fill="#F0A30A"/><rect x="1020" y="481.3" width="19.4" height="20.3" fill="#F3C875"/><rect x="1039.4" y="481.3" width="19.4" height="20.3" fill="#FCEDD3"/>
<rect x="1009.9" y="554" width="19.4" height="19.6" fill="#1BA1E2"/><rect x="1029.3" y="554" width="19.4" height="19.6" fill="#6BBBE3"/><rect x="1048.7" y="554" width="19.4" height="19.6" fill="#B3E0F5"/>
<rect x="1005.2" y="558.8" width="19.4" height="19.6" fill="#7ED321"/><rect x="1024.6" y="558.8" width="19.4" height="19.6" fill="#C5F08A"/><rect x="1044" y="558.8" width="19.4" height="19.6" fill="#E3F9CC"/>
<rect x="1000.6" y="563.6" width="19.4" height="19.7" fill="#EBAA23"/><rect x="1020" y="563.6" width="19.4" height="19.7" fill="#FDD998"/><rect x="1039.4" y="563.6" width="19.4" height="19.7" fill="#FDD998"/>
</g>
<text class="t"><tspan class="bi" x="1013" y="442.3" font-size="38">e</tspan><tspan class="it" x="1032.4" y="426" font-size="24">m</tspan><tspan class="it" x="1030" y="453" font-size="24">u</tspan></text>
<text class="t"><tspan class="bi" x="1014" y="628.5" font-size="38">e</tspan><tspan class="it" x="1033" y="612" font-size="24">m</tspan><tspan class="it" x="1031" y="637" font-size="24">i</tspan></text>
<text class="t b40" x="1094.5" y="497">BERT</text>
</g>

<g id="core-model">
<g class="vec">
<rect x="1276.4" y="417.7" width="19.4" height="19.2" fill="#F5B83D"/><rect x="1295.8" y="417.7" width="19.4" height="19.2" fill="#A8E85F"/><rect x="1315.2" y="417.7" width="19.4" height="19.2" fill="#74C7EE"/>
<rect x="1496.5" y="417.7" width="19.4" height="19.2" fill="#F0A30A"/><rect x="1515.9" y="417.7" width="19.4" height="19.2" fill="#60A917"/><rect x="1535.3" y="417.7" width="19.4" height="19.2" fill="#1BA1E2"/>
<rect x="1276.4" y="688" width="19.4" height="19.8" fill="#F5C35A"/><rect x="1295.8" y="688" width="19.4" height="19.8" fill="#CCF59E"/><rect x="1315.2" y="688" width="19.4" height="19.8" fill="#B3E3F7"/>
<rect x="1496.5" y="688" width="19.4" height="19.8" fill="#EBAA23"/><rect x="1515.9" y="688" width="19.4" height="19.8" fill="#7ED321"/><rect x="1535.3" y="688" width="19.4" height="19.8" fill="#2DB5F5"/>
</g>
<text class="t"><tspan class="bi" x="1292" y="404.5" font-size="36">ē</tspan><tspan class="it" x="1306.7" y="411" font-size="22">u</tspan></text>
<text class="t"><tspan class="bi" x="1508" y="398" font-size="36">v</tspan><tspan class="it" x="1522" y="408.4" font-size="22">u</tspan></text>
<text class="t"><tspan class="bi" x="1292" y="672" font-size="36">ē</tspan><tspan class="it" x="1308" y="681" font-size="22">i</tspan></text>
<text class="t"><tspan class="bi" x="1508" y="670.8" font-size="36">v</tspan><tspan class="it" x="1524" y="681" font-size="22">i</tspan></text>
<text class="t"><tspan class="bi" x="1397.6" y="481" font-size="30">f̃</tspan><tspan class="it" x="1419.4" y="465" font-size="22">m</tspan><tspan class="it" x="1414" y="488.5" font-size="20">u</tspan></text>
<text class="t"><tspan class="bi" x="1397.6" y="741" font-size="30">f̃</tspan><tspan class="it" x="1419.4" y="727.5" font-size="22">m</tspan><tspan class="it" x="1414" y="747" font-size="20">i</tspan></text>
<circle class="nb" cx="1538.6" cy="585.5" r="12"/>
<path class="ln" d="M1530.1,577 L1547.1,594 M1547.1,577 L1530.1,594"/>
<text class="t"><tspan class="it" x="1419" y="592" font-size="36">ŷ</tspan><tspan class="it" x="1441" y="606" font-size="22">u, i</tspan></text>
<polygon class="hol" points="1357.6,584.7 1381.8,564.8 1381.8,577.7 1404.4,577.7 1404.4,592 1381.8,592 1381.8,606"/>
<text class="t"><tspan class="sym" x="1243" y="602" font-size="56">ℒ</tspan><tspan x="1276.4" y="614.4" font-size="33">Core</tspan></text>
</g>

<g id="connectors">
<path class="ln" d="M79,273 V296 H280 V273"/>
<path class="ln" d="M134,296 V410" marker-end="url(#ah)"/>
<path class="ln dsh" d="M134,560 V599" marker-end="url(#ah)"/>
<path class="ln" d="M237,620 H350" marker-end="url(#ah)"/>
<path class="ln" d="M489,620 H529" marker-end="url(#ah)"/>
<path class="ln" d="M604,393 H491" marker-end="url(#ah)"/>
<path class="ln" d="M605,204 H546.4 V590.6 H605"/>
<path class="ln" d="M418.7,180 H602" marker-end="url(#ah)"/>
<path class="ln dsh" d="M696.6,262 V311" marker-end="url(#ah)"/>
<path class="ln dsh" d="M696.6,500 V470" marker-end="url(#ah)"/>
<path class="ln" d="M777.7,134.7 H848.2 V361" marker-end="url(#ah)"/>
<path class="ln" d="M916,425 H940.6 V623 H777"/>
<path class="ln" d="M940.6,509.5 H972.7" marker-end="url(#ah)"/>
<path class="ln" d="M1089.3,512 H1218.2"/>
<path class="ln" d="M1218.2,425.2 V692.8"/>
<path class="ln" d="M1218.2,425.2 H1251" marker-end="url(#ah)"/>
<path class="ln" d="M1218.2,692.8 H1251" marker-end="url(#ah)"/>
<path class="ln" d="M1377,424.4 H1455.5" marker-end="url(#ah)"/>
<path class="ln" d="M1377,692.8 H1455.5" marker-end="url(#ah)"/>
<path class="ln" d="M1537.7,448.5 V573.5"/>
<path class="ln" d="M1537.7,597.5 V638"/>
<path class="ln" d="M1526.6,585 H1494.8" marker-end="url(#ah)"/>
<path class="ln thk" d="M1064.3,197.4 H1094.6" marker-end="url(#ah)"/>
<path class="ln thk" d="M1064.3,278.6 H1094.6" marker-end="url(#ah)"/>
<path class="ln thk" d="M1064.3,359.7 H1094.6" marker-end="url(#ah)"/>
</g>
</g>
</svg>
